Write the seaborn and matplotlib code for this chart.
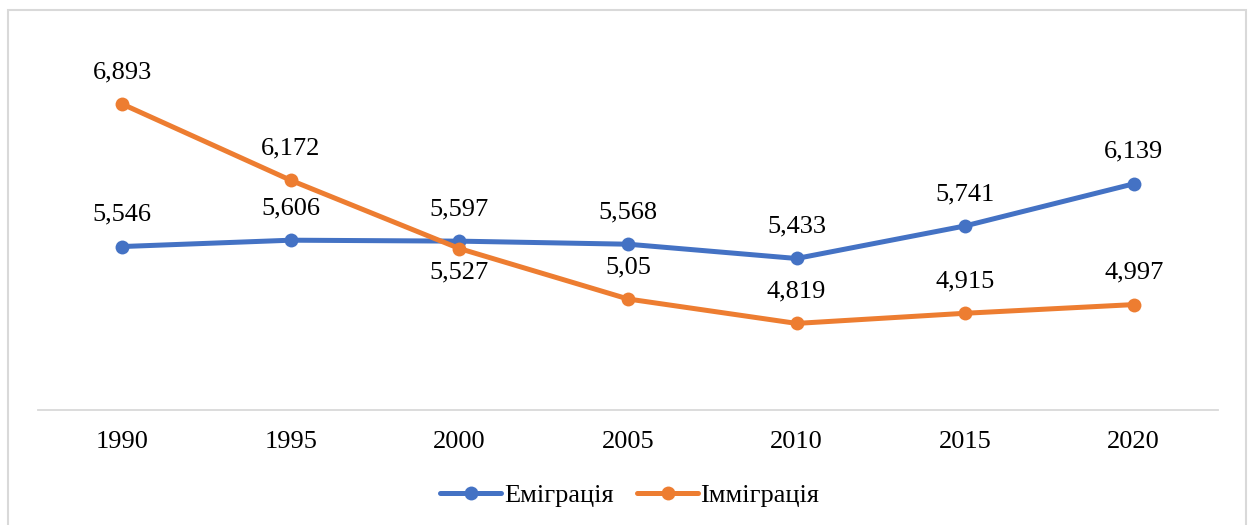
import pandas as pd
import numpy as np
import matplotlib.pyplot as plt
import matplotlib.patches as mpatches
import seaborn as sns

years = [1990, 1995, 2000, 2005, 2010, 2015, 2020]
emigration = [5.546, 5.606, 5.597, 5.568, 5.433, 5.741, 6.139]
immigration = [6.893, 6.172, 5.527, 5.05, 4.819, 4.915, 4.997]
series_names = ["Еміграція", "Імміграція"]
colors = ["#4472C4", "#ED7D31"]

df = pd.DataFrame({
    "year": years * 2,
    "value": emigration + immigration,
    "series": [series_names[0]] * len(years) + [series_names[1]] * len(years),
})

sns.set_style("white")
plt.rcParams['font.family'] = ['Liberation Serif', 'DejaVu Serif']
plt.rcParams['text.color'] = 'black'
plt.rcParams['xtick.color'] = 'black'

fs = 19

fig = plt.figure(figsize=(12.5, 5.25), dpi=100)
ax = fig.add_axes([0.0304, 0.219, 0.944, 0.705])

sns.lineplot(data=df, x="year", y="value", hue="series", palette=colors,
             marker="o", markersize=10, markeredgewidth=0, linewidth=3.6,
             ax=ax, legend=False)

# data labels
def fmt(v):
    return str(v).replace(".", ",")

for y, v in zip(years, emigration):
    ax.annotate(fmt(v), (y, v), xytext=(0, 23), textcoords="offset points",
                ha="center", va="center", fontsize=fs, color="black")
for y, v in zip(years, immigration):
    off = -17 if y == 2000 else 23
    ax.annotate(fmt(v), (y, v), xytext=(0, off), textcoords="offset points",
                ha="center", va="center", fontsize=fs, color="black")

ax.set_xlim(1987.5, 2022.5)
ax.set_ylim(4, 7.5)
ax.set_xticks(years)
ax.set_xticklabels([str(y) for y in years], fontsize=fs, color="black")
ax.set_yticks([])
ax.set_xlabel("")
ax.set_ylabel("")
ax.tick_params(axis="x", length=0, pad=15)
for s in ["top", "left", "right"]:
    ax.spines[s].set_visible(False)
ax.spines["bottom"].set_color("#D9D9D9")
ax.spines["bottom"].set_linewidth(1.3)

handles = [plt.Line2D([], [], color=c, marker="o", markersize=10, linewidth=3.6,
                      markeredgewidth=0) for c in colors]
fig.legend(handles, series_names, loc="center", bbox_to_anchor=(0.504, 0.057),
           ncol=2, frameon=False, fontsize=fs, handlelength=2.3,
           handletextpad=0.1, columnspacing=0.9)

fig.patches.append(mpatches.Rectangle((8 / 1250, -0.01), 1238 / 1250, 1 - 10 / 525 + 0.01,
                                      transform=fig.transFigure, fill=False,
                                      edgecolor="#D9D9D9", linewidth=1.5))

fig.savefig("out.png", dpi=100)
